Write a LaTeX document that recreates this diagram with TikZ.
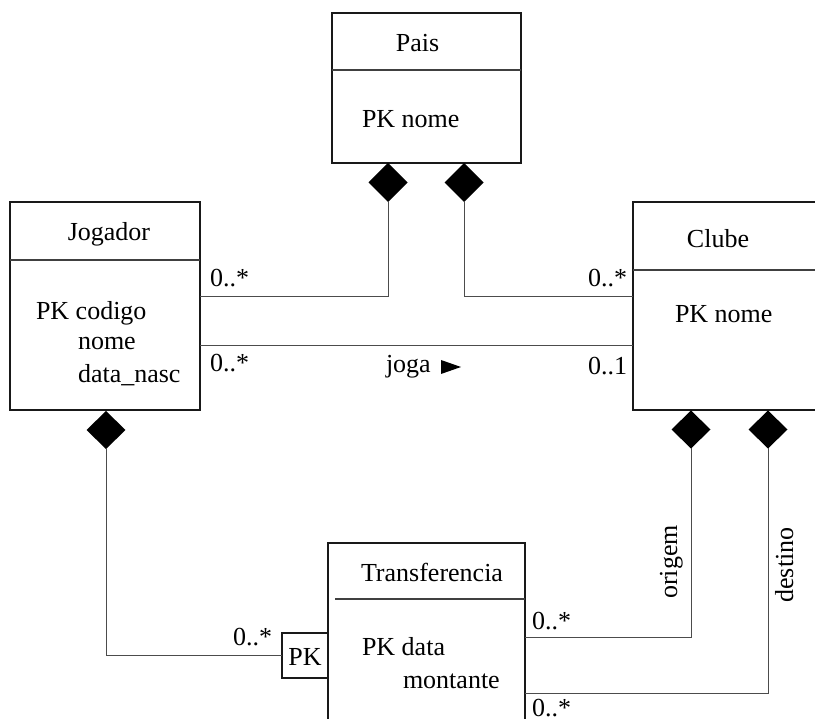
\documentclass[tikz,border=0pt]{standalone}
\usepackage{fontspec}
\setmainfont{Liberation Serif}
\usetikzlibrary{shapes.geometric}
\begin{document}
\begin{tikzpicture}[x=1pt,y=-1pt,
  every node/.style={font=\fontsize{26}{30}\selectfont, inner sep=0pt, outer sep=0pt},
  umlbox/.style={draw=black!90, line width=1.2pt, fill=none},
  sepline/.style={draw=black!75, line width=1.2pt},
  conn/.style={draw=black!70, line width=1pt},
  dia/.style={diamond, fill=black, draw=none, minimum width=39pt, minimum height=39pt, inner sep=0pt},
  txt/.style={anchor=base west},
  ctxt/.style={anchor=base}
]
\useasboundingbox (0,0) rectangle (815,719);

% boxes
\node[umlbox, minimum width=189pt, minimum height=150pt] (pais) at (426.5,88) {};
\node[umlbox, minimum width=190pt, minimum height=208pt] (jogador) at (105,306) {};
\node[umlbox, minimum width=187pt, minimum height=208pt] (clube) at (726.5,306) {};
\node[umlbox, minimum width=197pt, minimum height=197pt] (trans) at (426.5,641.5) {};
\node[umlbox, minimum width=46pt, minimum height=45pt] (pk) at (305,655.5) {};

% separators
\draw[sepline] (pais.west |- 0,70) -- (pais.east |- 0,70);
\draw[sepline] (jogador.west |- 0,260) -- (jogador.east |- 0,260);
\draw[sepline] (clube.west |- 0,270) -- (clube.east |- 0,270);
\draw[sepline] (335,599) -- (trans.east |- 0,599);

% texts
\node[ctxt] (tpais) at (417.5,52) {Pais};
\node[txt] (tpaisk) at (362,128) {PK nome};
\node[ctxt] (tjog) at (109,241) {Jogador};
\node[txt] (tjog1) at (36,320) {PK codigo};
\node[txt] (tjog2) at (78,350) {nome};
\node[txt] (tjog3) at (78,383) {data\_nasc};
\node[ctxt] (tclube) at (718,248) {Clube};
\node[txt] (tclubek) at (675,323) {PK nome};
\node[ctxt] (ttrans) at (432,581) {Transferencia};
\node[txt] (ttrans1) at (362,655) {PK data};
\node[txt] (ttrans2) at (403,688) {montante};
\node[ctxt] (tpk) at (305,665) {PK};

% diamonds
\node[dia] (dP1) at (388,182.5) {};
\node[dia] (dP2) at (464,182.5) {};
\node[dia, minimum height=38pt] (dJ) at (106,430) {};
\node[dia, minimum height=38pt] (dC1) at (691,429.5) {};
\node[dia, minimum height=38pt] (dC2) at (768,429.5) {};

% connector end points on box edges
\coordinate (jA) at (200,297);
\coordinate (jB) at (200,346);
\coordinate (cA) at (633,297);
\coordinate (cB) at (633,346);
\coordinate (tA) at (525,637);
\coordinate (tB) at (525,693);

% connectors
\draw[conn] (dP1.south) |- (jA);
\draw[conn] (dP2.south) |- (cA);
\draw[conn] (jB) -- (cB);
\draw[conn] (dJ.south) |- (pk.west);
\draw[conn] (dC1.south) |- (tA);
\draw[conn] (dC2.south) |- (tB);

% multiplicities and labels
\node[txt] (m1) at (210,287) {0..*};
\node[txt] (m2) at (210,372) {0..*};
\node[anchor=base east] (m3) at (627,287) {0..*};
\node[anchor=base east] (m4) at (627,375) {0..1};
\node[txt] (mjoga) at (386,373) {joga};
\fill[black] (441,360) -- (441,374) -- (461,367) -- cycle;
\node[anchor=base east] (m5) at (272,645) {0..*};
\node[txt] (m6) at (532,629) {0..*};
\node[txt] (m7) at (532,716.5) {0..*};
\node[rotate=90, anchor=base] (lorig) at (677,562) {origem};
\node[rotate=90, anchor=base] (ldest) at (793,565) {destino};
\end{tikzpicture}
\end{document}
